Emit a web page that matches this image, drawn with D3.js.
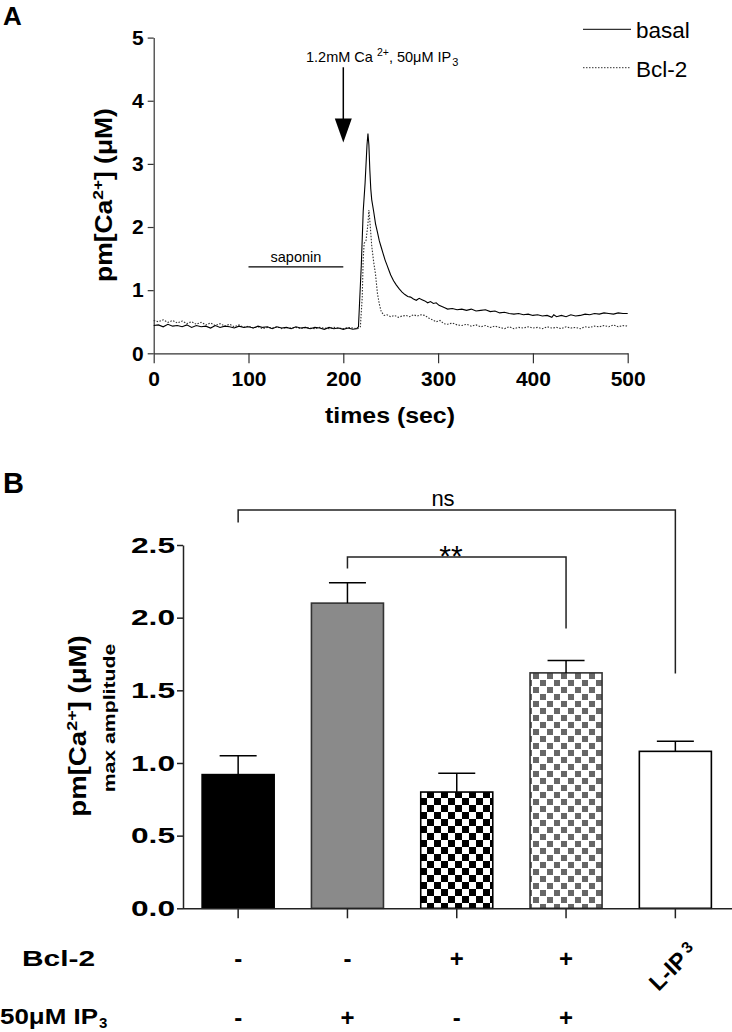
<!DOCTYPE html>
<html><head><meta charset="utf-8">
<script src="https://cdn.jsdelivr.net/npm/d3@7"></script>
<style>
body{margin:0;background:#fff}
svg{display:block}
text{font-family:"Liberation Sans",Arial,sans-serif;fill:#000}
</style>
</head><body>
<svg id="c" width="732" height="1032"></svg>
<script>
// ---------- Panel A data ----------
const timeTicks=[0,100,200,300,400,500];
const concTicks=[0,1,2,3,4,5];
const basalT=[0,5,10,15,20,25,30,35,40,45,50,55,60,65,70,75,80,85,90,95,100,105,110,115,120,125,130,135,140,145,150,155,160,165,170,175,180,185,190,195,200,205,210,214,216,217,219,221,223,225,226,227,228,229,230,232,234,236,238,240,242,244,246,248,250,253,256,259,262,265,268,271,274,277,280,283,286,289,292,295,298,301,304,307,310,315,320,325,330,335,340,345,350,355,360,365,370,375,380,385,390,395,400,405,410,415,420,422,425,430,435,440,445,450,455,460,465,470,475,480,485,490,495,500];
const basalV=[0.44,0.45,0.42,0.46,0.43,0.44,0.42,0.45,0.41,0.44,0.42,0.43,0.40,0.44,0.41,0.43,0.42,0.40,0.43,0.41,0.42,0.40,0.43,0.41,0.42,0.39,0.42,0.40,0.41,0.39,0.42,0.40,0.41,0.39,0.41,0.40,0.38,0.41,0.39,0.40,0.38,0.40,0.38,0.39,0.42,0.75,1.40,2.25,2.70,3.30,3.48,3.30,2.90,2.60,2.43,2.25,2.05,1.92,1.78,1.68,1.58,1.48,1.40,1.32,1.24,1.15,1.08,1.02,0.97,0.93,0.90,0.89,0.86,0.84,0.87,0.85,0.83,0.80,0.82,0.79,0.80,0.76,0.74,0.72,0.70,0.71,0.69,0.70,0.68,0.70,0.67,0.68,0.69,0.66,0.67,0.64,0.65,0.63,0.62,0.63,0.61,0.62,0.60,0.61,0.59,0.60,0.57,0.61,0.58,0.60,0.58,0.61,0.59,0.60,0.62,0.61,0.63,0.62,0.64,0.63,0.62,0.64,0.63,0.63];
const bcl2T=[0,5,10,15,20,25,30,35,40,45,50,55,60,65,70,75,80,85,90,95,100,105,110,115,120,125,130,135,140,145,150,155,160,165,170,175,180,185,190,195,200,205,210,215,218,220,221,222,224,226,227,228,230,232,234,236,238,240,243,246,250,254,258,262,266,270,274,278,282,286,290,294,298,302,306,310,315,320,325,330,335,340,345,350,355,360,365,370,375,380,385,390,395,400,405,410,415,420,425,430,435,440,445,450,455,460,465,470,475,480,485,490,495,500];
const bcl2V=[0.52,0.50,0.53,0.49,0.52,0.48,0.51,0.47,0.50,0.46,0.49,0.45,0.48,0.44,0.47,0.43,0.46,0.42,0.45,0.41,0.43,0.40,0.42,0.39,0.41,0.40,0.42,0.39,0.41,0.40,0.41,0.39,0.41,0.40,0.39,0.41,0.40,0.39,0.41,0.40,0.39,0.41,0.40,0.39,0.42,0.90,1.50,1.74,1.79,2.05,2.27,2.10,1.70,1.45,1.25,0.95,0.78,0.66,0.60,0.61,0.58,0.60,0.57,0.59,0.60,0.58,0.61,0.59,0.61,0.60,0.56,0.53,0.50,0.52,0.47,0.46,0.48,0.45,0.44,0.46,0.43,0.45,0.42,0.44,0.41,0.43,0.41,0.39,0.42,0.39,0.41,0.40,0.42,0.40,0.41,0.39,0.42,0.40,0.41,0.39,0.42,0.40,0.41,0.39,0.42,0.41,0.43,0.42,0.44,0.42,0.45,0.42,0.44,0.43];
const seriesNames=["basal","Bcl-2"];
// annotations (data units)
const saponinSpan=[100,200], saponinLevel=1.37;
const arrowTime=200, arrowFrom=4.53, arrowTo=3.34;

// ---------- Panel B data ----------
const barCategories=["ctrl","IP3","Bcl2","Bcl2+IP3","L-IP3"];
const barValues=[0.92,2.10,0.80,1.62,1.08];
const barErrors=[0.13,0.14,0.13,0.085,0.07];
const ampTicks=[0,0.5,1.0,1.5,2.0,2.5];
const bcl2Row=["-","-","+","+",null];
const ip3Row=["-","+","-","+",null];
const brackets=[
  {from:0,to:4,top:2.74,leftEnd:2.655,rightEnd:1.616,label:"ns"},
  {from:1,to:3,top:2.418,leftEnd:2.338,rightEnd:1.926,label:"**"}
];

const svg=d3.select("#c");
const defs=svg.append("defs");
// patterns
const pChkB=defs.append("pattern").attr("id","pChkB").attr("patternUnits","userSpaceOnUse").attr("width",14).attr("height",14).attr("x",0).attr("y",0);
pChkB.append("rect").attr("width",14).attr("height",14).attr("fill","#fff");
pChkB.append("rect").attr("width",7).attr("height",7).attr("fill","#000");
pChkB.append("rect").attr("x",7).attr("y",7).attr("width",7).attr("height",7).attr("fill","#000");
const pChkG=defs.append("pattern").attr("id","pChkG").attr("patternUnits","userSpaceOnUse").attr("width",14).attr("height",14);
pChkG.append("rect").attr("width",14).attr("height",14).attr("fill","#fff");
pChkG.append("rect").attr("x",1).attr("y",1).attr("width",6).attr("height",6).attr("fill","#676767");
pChkG.append("rect").attr("x",8).attr("y",8).attr("width",6).attr("height",6).attr("fill","#676767");
const barFills=["#000","#8a8a8a","url(#pChkB)","url(#pChkG)","#fff"];
const barStrokes=["#000","#333","#000","#333","#000"];

// ================= Panel A =================
const xA=d3.scaleLinear().domain([0,500]).range([153.7,627.7]);
const yA=d3.scaleLinear().domain([0,5]).range([353.3,37.6]);
const gA=svg.append("g");

const axA_y=gA.append("g").attr("transform",`translate(${xA(0)},0)`)
  .call(d3.axisLeft(yA).tickValues(concTicks).tickFormat(d3.format("d")).tickSize(6).tickSizeOuter(0).tickPadding(4));
const axA_x=gA.append("g").attr("transform",`translate(0,${yA(0)})`)
  .call(d3.axisBottom(xA).tickValues(timeTicks).tickFormat(d3.format("d")).tickSize(10).tickSizeOuter(0).tickPadding(8));
[axA_y,axA_x].forEach(a=>{
  a.selectAll("path,line").attr("stroke","#333").attr("stroke-width",1.2);
  a.selectAll("text").attr("font-size",21).attr("font-weight","bold").attr("font-family","Liberation Sans, Arial, sans-serif").attr("fill","#000");
});

const lineA=d3.line().x(d=>xA(d[0])).y(d=>yA(d[1]));
gA.append("path").datum(bcl2T.map((t,i)=>[t,bcl2V[i]])).attr("d",lineA)
  .attr("fill","none").attr("stroke","#333").attr("stroke-width",1.1).attr("stroke-dasharray","1.5,1.5");
gA.append("path").datum(basalT.map((t,i)=>[t,basalV[i]])).attr("d",lineA)
  .attr("fill","none").attr("stroke","#000").attr("stroke-width",1.1);

// saponin
gA.append("line").attr("x1",xA(saponinSpan[0])).attr("x2",xA(saponinSpan[1]))
  .attr("y1",yA(saponinLevel)).attr("y2",yA(saponinLevel)).attr("stroke","#000").attr("stroke-width",1.3);
gA.append("text").attr("x",(xA(saponinSpan[0])+xA(saponinSpan[1]))/2).attr("y",yA(saponinLevel)-5)
  .attr("text-anchor","middle").attr("font-size",14.5).text("saponin");

// arrow
gA.append("line").attr("x1",xA(arrowTime)).attr("x2",xA(arrowTime)).attr("y1",yA(arrowFrom)).attr("y2",yA(arrowTo)-20)
  .attr("stroke","#000").attr("stroke-width",1.5);
gA.append("path").attr("d",`M${xA(arrowTime)-8.5},${yA(arrowTo)-24}L${xA(arrowTime)+8.5},${yA(arrowTo)-24}L${xA(arrowTime)},${yA(arrowTo)}Z`).attr("fill","#000");
const ann=gA.append("text").attr("x",306).attr("y",62).attr("font-size",14.5);
ann.append("tspan").text("1.2mM Ca ");
ann.append("tspan").attr("dy",-6).attr("font-size",10.5).text("2+");
ann.append("tspan").attr("dy",6).text(", 50μM IP");
ann.append("tspan").attr("dx",1).attr("dy",4).attr("font-size",11).text("3");

// legend
const leg=gA.append("g");
seriesNames.forEach((n,i)=>{
  const yy=29.3+i*38.4;
  leg.append("line").attr("x1",583).attr("x2",631).attr("y1",yy).attr("y2",yy)
    .attr("stroke",i?"#333":"#000").attr("stroke-width",1).attr("stroke-dasharray",i?"1.5,1.5":null);
  leg.append("text").attr("x",636).attr("y",yy+9).attr("font-size",22.5).text(n);
});

// axis titles
gA.append("text").attr("x",390).attr("y",423).attr("text-anchor","middle").attr("font-size",22).attr("font-weight","bold")
  .attr("textLength",130).attr("lengthAdjust","spacingAndGlyphs").text("times (sec)");
const tA=gA.append("text").attr("transform","translate(112,195) rotate(-90) scale(1.15,1)").attr("text-anchor","middle")
  .attr("font-size",23).attr("font-weight","bold");
tA.append("tspan").text("pm[Ca");
tA.append("tspan").attr("dy",-9).attr("font-size",15).text("2+");
tA.append("tspan").attr("dy",9).text("] (μM)");
svg.append("text").attr("x",3).attr("y",25).attr("font-size",26).attr("font-weight","bold").text("A");

// ================= Panel B =================
const xB=d3.scaleBand().domain(barCategories).range([183,730.5]).paddingInner(0.341).paddingOuter(0.175);
const yB=d3.scaleLinear().domain([0,2.5]).range([908.3,545]);
const gB=svg.append("g");

gB.selectAll("rect.bar").data(barValues).join("rect").attr("class","bar")
  .attr("x",(d,i)=>xB(barCategories[i])).attr("width",xB.bandwidth())
  .attr("y",d=>yB(d)).attr("height",d=>yB(0)-yB(d))
  .attr("fill",(d,i)=>barFills[i]).attr("stroke",(d,i)=>barStrokes[i]).attr("stroke-width",1.6);

const cx=i=>xB(barCategories[i])+xB.bandwidth()/2;
barValues.forEach((v,i)=>{
  gB.append("line").attr("x1",cx(i)).attr("x2",cx(i)).attr("y1",yB(v)).attr("y2",yB(v+barErrors[i])).attr("stroke","#000").attr("stroke-width",1.5);
  gB.append("line").attr("x1",cx(i)-18.5).attr("x2",cx(i)+18.5).attr("y1",yB(v+barErrors[i])).attr("y2",yB(v+barErrors[i])).attr("stroke","#000").attr("stroke-width",1.5);
});

const axB_y=gB.append("g").attr("transform",`translate(${183},0)`)
  .call(d3.axisLeft(yB).tickValues(ampTicks).tickFormat(d3.format(".1f")).tickSize(6).tickSizeOuter(0).tickPadding(2));
const axB_x=gB.append("g").attr("transform",`translate(0,${yB(0)})`)
  .call(d3.axisBottom(xB).tickSize(10).tickSizeOuter(0).tickFormat(""));
axB_x.select("path.domain").attr("d",`M${183},0.5H732`);
[axB_y,axB_x].forEach(a=>{
  a.selectAll("path,line").attr("stroke","#222").attr("stroke-width",1.5);
});
axB_y.selectAll("text").attr("font-size",22).attr("font-weight","bold").attr("font-family","Liberation Sans, Arial, sans-serif").attr("fill","#000")
  .attr("textLength",44).attr("lengthAdjust","spacingAndGlyphs");

// brackets
brackets.forEach(b=>{
  const x1=cx(b.from), x2=cx(b.to);
  gB.append("path").attr("d",`M${x1},${yB(b.leftEnd)}V${yB(b.top)}H${x2}V${yB(b.rightEnd)}`)
    .attr("fill","none").attr("stroke","#222").attr("stroke-width",1.5);
});
gB.append("text").attr("x",443).attr("y",506).attr("text-anchor","middle").attr("font-size",22).text(brackets[0].label);
gB.append("text").attr("x",451).attr("y",566).attr("text-anchor","middle").attr("font-size",30).text(brackets[1].label);

// titles
const tB=gB.append("text").attr("transform","translate(86,726) rotate(-90) scale(1.2,1)").attr("text-anchor","middle")
  .attr("font-size",23).attr("font-weight","bold");
tB.append("tspan").text("pm[Ca");
tB.append("tspan").attr("dy",-9).attr("font-size",15).text("2+");
tB.append("tspan").attr("dy",9).text("] (μM)");
gB.append("text").attr("transform","translate(115,718) rotate(-90) scale(1.25,1)").attr("text-anchor","middle")
  .attr("font-size",17).attr("font-weight","bold").text("max amplitude");
svg.append("text").attr("x",3).attr("y",493).attr("font-size",29).attr("font-weight","bold").text("B");

// condition rows
gB.append("text").attr("x",22).attr("y",966).attr("font-size",22).attr("font-weight","bold")
  .attr("textLength",73).attr("lengthAdjust","spacingAndGlyphs").text("Bcl-2");
const r2=gB.append("text").attr("x",0).attr("y",1024).attr("font-size",22).attr("font-weight","bold");
r2.append("tspan").attr("textLength",98).attr("lengthAdjust","spacingAndGlyphs").text("50μM IP");
r2.append("tspan").attr("dx",1).attr("dy",4).attr("font-size",15).text("3");
bcl2Row.forEach((s,i)=>{ if(s) gB.append("text").attr("x",cx(i)).attr("y",967).attr("text-anchor","middle").attr("font-size",24).attr("font-weight","bold").text(s); });
ip3Row.forEach((s,i)=>{ if(s) gB.append("text").attr("x",cx(i)).attr("y",1026).attr("text-anchor","middle").attr("font-size",24).attr("font-weight","bold").text(s); });
const lip=gB.append("text").attr("transform",`translate(${cx(4)+3},${972}) rotate(-45)`).attr("text-anchor","middle")
  .attr("font-size",23).attr("font-weight","bold");
lip.append("tspan").text("L-IP");
lip.append("tspan").attr("dx",4).attr("dy",-6).attr("font-size",16).text("3");
</script>
</body></html>
